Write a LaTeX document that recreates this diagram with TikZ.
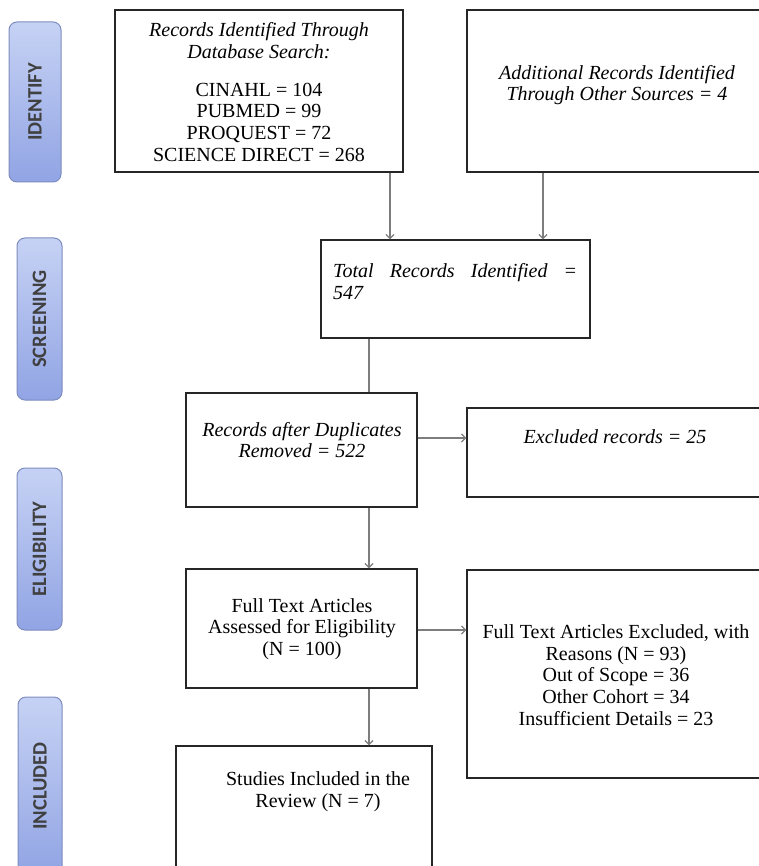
\documentclass[tikz,border=0pt]{standalone}
\usepackage{fontspec}
\usepackage{graphicx}
\setmainfont{Liberation Serif}
\newfontfamily\barfont{Carlito}
\usetikzlibrary{arrows.meta,calc}
\definecolor{barA}{RGB}{198,210,244}
\definecolor{barB}{RGB}{145,164,228}
\definecolor{barline}{RGB}{125,140,190}
\definecolor{arrowgray}{RGB}{125,125,125}
\begin{document}
\begin{tikzpicture}[x=1pt,y=-1pt,
  box/.style={draw=black!85, line width=1.2pt, rectangle, inner sep=0pt},
  txt/.style={align=center, font=\fontsize{20}{21.7}\selectfont, inner sep=0pt},
  bar/.style={draw=barline, line width=1pt, rounded corners=8pt, top color=barA, bottom color=barB, inner sep=0pt,
    font=\barfont\bfseries\fontsize{20.5}{20.5}\selectfont, text=black!75},
  conn/.style={draw=arrowgray, line width=1.3pt},
  arr/.style={conn, -{Straight Barb[length=4pt,width=8pt]}}]
\useasboundingbox (0,0) rectangle (759,866);
\fill[white] (0,0) rectangle (759,866);

% phase bars
\node[bar, minimum height=160, minimum width=52] (pid) at (35,102) {\rotatebox{90}{IDENTIFY}};
\node[bar, minimum height=162, minimum width=45] (psc) at (39.5,319) {\rotatebox{90}{SCREENING}};
\node[bar, minimum height=162, minimum width=45] (pel) at (39.5,549) {\rotatebox{90}{ELIGIBILITY}};
\node[bar, minimum height=178, minimum width=44] (pin) at (40,786) {\rotatebox{90}{INCLUDED}};

% boxes
\node[box, minimum width=288, minimum height=162] (b1) at (259,91) {};
\node[box, minimum width=298, minimum height=162] (b2) at (616,91) {};
\node[box, minimum width=269, minimum height=98] (tot) at (455.5,289) {};
\node[box, minimum width=231, minimum height=114] (dup) at (301.5,450) {};
\node[box, minimum width=298, minimum height=89] (exc) at (616,452.5) {};
\node[box, minimum width=231, minimum height=119] (ft) at (301.5,628.5) {};
\node[box, minimum width=298, minimum height=208] (fte) at (616,674) {};
\node[box, minimum width=256, minimum height=134] (inc) at (304,813) {};

% texts
\node[txt] (t1) at (259,92) {\textit{Records Identified Through}\\ \textit{Database Search:}\\[16pt]
  CINAHL = 104\\ PUBMED = 99\\ PROQUEST = 72\\ SCIENCE DIRECT = 268};
\node[txt] (t2) at (617,85) {\textit{Additional Records Identified}\\ \textit{Through Other Sources = 4}};
\node[txt, anchor=west, align=left] (ttot) at (333,281.5) {\makebox[244pt][s]{\itshape Total Records Identified =}\\ \textit{547}};
\node[txt] (tdup) at (302,440) {\textit{Records after Duplicates}\\ \textit{Removed = 522}};
\node[txt] (texc) at (615,437) {\textit{Excluded records = 25}};
\node[txt] (tft) at (302,629) {Full Text Articles\\ Assessed for Eligibility\\ (N = 100)};
\node[txt] (tfte) at (616,675) {Full Text Articles Excluded, with\\ Reasons (N = 93)\\ Out of Scope = 36\\ Other Cohort = 34\\ Insufficient Details = 23};
\node[txt] (tinc) at (318,792) {Studies Included in the\\ Review (N = 7)};

% connector guides
\coordinate (xa) at (390,0);
\coordinate (xb) at (543,0);
\coordinate (xc) at (369,0);
\coordinate (ya) at (0,438);
\coordinate (yb) at (0,630);

% connectors
\draw[arr] (b1.south -| xa) -- (tot.north -| xa);
\draw[arr] (b2.south -| xb) -- (tot.north -| xb);
\draw[conn] (tot.south -| xc) -- (dup.north -| xc);
\draw[arr] (dup.south -| xc) -- (ft.north -| xc);
\draw[arr] (ft.south -| xc) -- (inc.north -| xc);
\draw[arr] (dup.east |- ya) -- (exc.west |- ya);
\draw[arr] (ft.east |- yb) -- (fte.west |- yb);
\end{tikzpicture}
\end{document}
